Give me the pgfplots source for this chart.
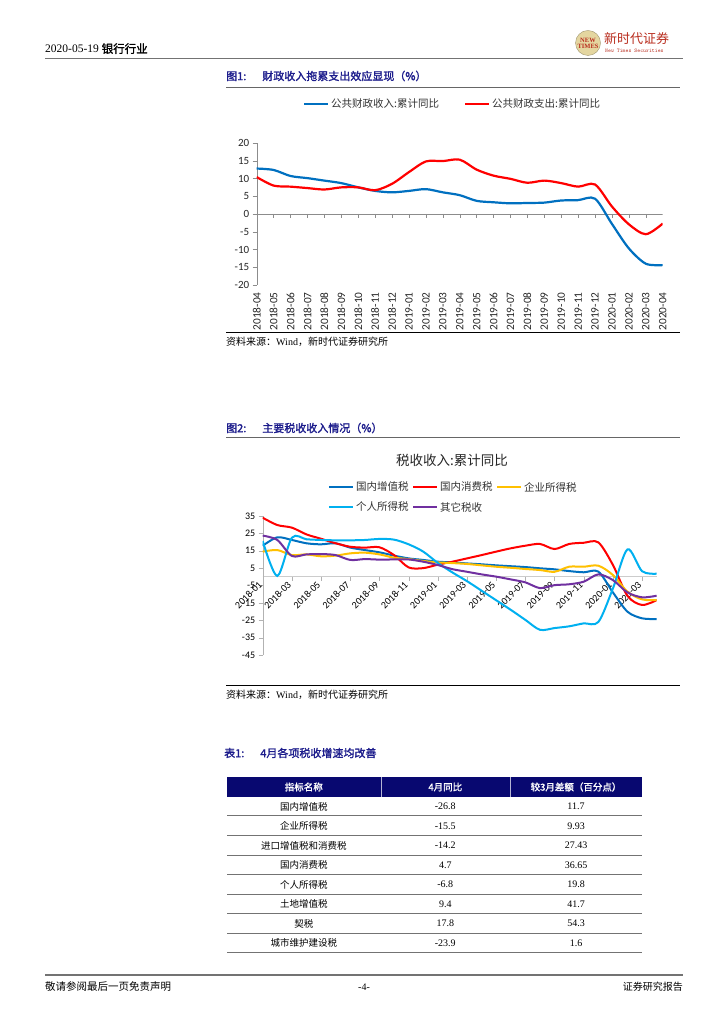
\documentclass[border=0pt]{standalone}
\usepackage{fontspec}
\usepackage{pgfplots}
\usepackage{pgfplotstable}
\pgfplotsset{compat=1.18}
\setmainfont{Liberation Serif}
\newfontfamily\cjk{Noto Sans CJK SC}
\newfontfamily\cjkb[FakeBold=1.5]{Noto Sans CJK SC}
\newfontfamily\calibri{Carlito}

\definecolor{xblue}{HTML}{0070C0}
\definecolor{xred}{HTML}{FF0000}
\definecolor{xyellow}{HTML}{FFC000}
\definecolor{xcyan}{HTML}{00B0F0}
\definecolor{xpurple}{HTML}{7030A0}
\definecolor{navyhead}{RGB}{8,8,112}
\definecolor{capblue}{RGB}{28,28,140}
\definecolor{logored}{RGB}{185,45,30}
\definecolor{logogold}{RGB}{228,214,160}

% fiscal revenue / expenditure, cumulative yoy, 2018-04 .. 2020-04
\pgfplotstableread{
idx rev exp
0 12.8 10.4
1 12.4 8.0
2 10.7 7.7
3 10.1 7.3
4 9.4 6.9
5 8.7 7.5
6 7.5 7.5
7 6.5 6.7
8 6.1 8.5
9 6.5 11.8
10 7.0 14.8
11 6.1 14.9
12 5.3 15.3
13 3.7 12.5
14 3.3 10.8
15 3.0 9.9
16 3.1 8.8
17 3.2 9.4
18 3.8 8.7
19 3.9 7.7
20 4.3 8.3
21 -2.8 2.1
22 -9.7 -2.9
23 -14.0 -5.7
24 -14.4 -2.7
}\fiscal

% tax revenue, cumulative yoy, 2018-01 .. 2020-04
\pgfplotstableread{
idx vat cons corp pers other
0 17.9 34.0 14.5 20.6 23.7
1 22.7 29.8 15.4 0.5 21.2
2 21.2 28.3 12.5 22.5 12.0
3 19.3 24.4 12.9 21.6 12.9
4 18.7 21.9 11.8 21.2 13.1
5 19.3 19.3 12.2 21.0 12.5
6 16.8 17.3 13.5 21.0 9.7
7 15.4 16.8 13.9 21.2 10.2
8 14.1 17.0 12.9 21.8 9.9
9 12.2 12.5 11.0 21.4 10.0
10 10.6 5.4 10.2 18.7 10.0
11 9.7 5.0 9.1 14.5 8.7
12 8.7 7.0 8.3 8.0 6.8
13 8.3 8.7 7.9 2.5 4.4
14 7.7 10.6 7.4 -2.5 2.9
15 7.2 12.5 6.6 -8.0 1.4
16 6.6 14.5 5.8 -13.5 0.1
17 6.1 16.4 5.2 -19.0 -1.5
18 5.6 17.9 4.5 -24.8 -3.2
19 4.9 18.9 3.9 -30.5 -6.5
20 4.3 16.0 2.9 -29.5 -4.8
21 3.3 18.9 5.8 -28.5 -4.3
22 2.6 19.6 5.8 -26.8 -2.8
23 3.0 19.8 6.4 -26.0 1.4
24 -9.0 6.8 1.0 -6.7 -1.9
25 -20.1 -11.0 -8.6 15.8 -9.0
26 -23.9 -16.2 -13.0 3.2 -11.8
27 -24.3 -13.4 -13.4 1.8 -10.9
}\taxes

\begin{document}
\begin{tikzpicture}
\fill[white] (0,0) rectangle (724pt,1024pt);
\useasboundingbox (0,0) rectangle (724pt,1024pt);

% ---- chart 1 (placed in page points, origin at bottom left)
\begin{axis}[
  at={(256.7pt,739pt)}, anchor=south west,
  scale only axis, width=406pt, height=142pt,
  xmin=0, xmax=24, ymin=-20, ymax=20,
  separate axis lines,
  axis x line*=bottom, x axis line style={draw=none},
  xtick={0,...,24}, xtick style={draw=none},
  xticklabels={2018-04,2018-05,2018-06,2018-07,2018-08,2018-09,2018-10,2018-11,2018-12,2019-01,2019-02,2019-03,2019-04,2019-05,2019-06,2019-07,2019-08,2019-09,2019-10,2019-11,2019-12,2020-01,2020-02,2020-03,2020-04},
  x tick label style={rotate=90, anchor=east, font=\calibri\fontsize{11.3}{12}\selectfont, text=black!85},
  axis y line*=left, y axis line style={black!45},
  ytick={-20,-15,...,20}, ytick style={black!45},
  y tick label style={font=\calibri\fontsize{11}{12}\selectfont, text=black!85},
  /pgf/number format/assume math mode=true,
  tick align=outside, major tick length=4pt,
  every axis plot/.append style={line width=2.2pt, smooth},
]
\draw[black!45] (axis cs:0,0) -- (axis cs:24,0);
\pgfplotsinvokeforeach{0,...,24}{\draw[black!45] (axis cs:#1,0) -- ([yshift=-4pt]axis cs:#1,0);}
\addplot[xblue] table[x=idx,y=rev] {\fiscal};
\addplot[xred] table[x=idx,y=exp] {\fiscal};
\end{axis}

% ---- chart 2
\begin{axis}[
  at={(262.7pt,369pt)}, anchor=south west,
  scale only axis, width=394pt, height=139pt,
  xmin=0, xmax=27, ymin=-45, ymax=35,
  separate axis lines,
  axis x line*=middle, x axis line style={black!20, line width=0.8pt},
  hide obscured x ticks=false,
  xtick={0,2,...,26}, xtick style={black!30},
  xticklabels={2018-01,2018-03,2018-05,2018-07,2018-09,2018-11,2019-01,2019-03,2019-05,2019-07,2019-09,2019-11,2020-01,2020-03},
  x tick label style={rotate=45, anchor=east, font=\calibri\fontsize{10}{12}\selectfont, text=black},
  axis y line*=left, y axis line style={black!30},
  ytick={-45,-35,...,35}, ytick style={black!30},
  y tick label style={font=\calibri\fontsize{10}{12}\selectfont, text=black},
  /pgf/number format/assume math mode=true,
  tick align=outside, major tick length=4pt,
  every axis plot/.append style={line width=2pt, smooth},
]
\addplot[xblue] table[x=idx,y=vat] {\taxes};
\addplot[xred] table[x=idx,y=cons] {\taxes};
\addplot[xyellow] table[x=idx,y=corp] {\taxes};
\addplot[xcyan] table[x=idx,y=pers] {\taxes};
\addplot[xpurple] table[x=idx,y=other] {\taxes};
\end{axis}

% ---- page furniture, in pixel-like coordinates measured from the top
\begin{scope}[yshift=1024pt, x=1pt, y=-1pt]
\node[anchor=base west,inner sep=0,font=\fontsize{11.5}{13}\selectfont] at (45,53) {2020-05-19 {\cjkb 银行行业}};
\draw[line width=1.3pt,black!55] (45,58.5) -- (683,58.5);
\fill[logogold] (588,43) circle (12.5);
\draw[logogold!70!black, line width=0.4pt] (588,43) circle (12.5);
\node[font=\bfseries\fontsize{6.5}{6}\selectfont,text=logored,align=center,inner sep=0] at (588,43) {NEW\\TIMES};
\node[anchor=west,inner sep=0,font=\cjk\fontsize{13}{14}\selectfont,text=logored] at (604,39) {新时代证券};
\node[anchor=west,inner sep=0,font=\ttfamily\fontsize{5.5}{6}\selectfont,text=logored] at (605,51) {New Times Securities};

\node[anchor=west,inner sep=0,font=\cjkb\fontsize{11}{13}\selectfont,text=capblue] at (226,76) {图1:\hspace{16pt}财政收入拖累支出效应显现（\%）};
\draw[line width=0.8pt,black!60] (226,87) -- (680,87);

\draw[xblue,line width=2pt] (304,104) -- (328,104);
\node[anchor=west,inner sep=0,font=\cjk\fontsize{10.5}{12}\selectfont,text=black!80] at (331,104) {公共财政收入:累计同比};
\draw[xred,line width=2pt] (465,104) -- (489,104);
\node[anchor=west,inner sep=0,font=\cjk\fontsize{10.5}{12}\selectfont,text=black!80] at (492,104) {公共财政支出:累计同比};

\draw[line width=0.8pt] (226,332) -- (680,332);
\node[anchor=west,inner sep=0,font=\fontsize{10}{12}\selectfont] at (226,342) {{\cjk 资料来源：}Wind{\cjk ，新时代证券研究所}};

\node[anchor=west,inner sep=0,font=\cjkb\fontsize{11}{13}\selectfont,text=capblue] at (226,428) {图2:\hspace{16pt}主要税收收入情况（\%）};
\draw[line width=0.8pt,black!60] (226,437) -- (680,437);

\node[font=\cjk\fontsize{13.5}{15}\selectfont,text=black!85] at (452,460) {税收收入:累计同比};
\draw[xblue,line width=2pt] (329,487) -- (353,487);
\node[anchor=west,inner sep=0,font=\cjk\fontsize{10.5}{12}\selectfont,text=black!80] at (356,487) {国内增值税};
\draw[xred,line width=2pt] (413,487) -- (437,487);
\node[anchor=west,inner sep=0,font=\cjk\fontsize{10.5}{12}\selectfont,text=black!80] at (440,487) {国内消费税};
\draw[xyellow,line width=2pt] (497,487) -- (521,487);
\node[anchor=west,inner sep=0,font=\cjk\fontsize{10.5}{12}\selectfont,text=black!80] at (524,487) {企业所得税};
\draw[xcyan,line width=2pt] (329,507) -- (353,507);
\node[anchor=west,inner sep=0,font=\cjk\fontsize{10.5}{12}\selectfont,text=black!80] at (356,507) {个人所得税};
\draw[xpurple,line width=2pt] (413,507) -- (437,507);
\node[anchor=west,inner sep=0,font=\cjk\fontsize{10.5}{12}\selectfont,text=black!80] at (440,507) {其它税收};

\draw[line width=0.8pt] (226,685) -- (680,685);
\node[anchor=west,inner sep=0,font=\fontsize{10}{12}\selectfont] at (226,695) {{\cjk 资料来源：}Wind{\cjk ，新时代证券研究所}};

\node[anchor=west,inner sep=0,font=\cjkb\fontsize{11}{13}\selectfont,text=capblue] at (224,753) {表1:\hspace{16pt}4月各项税收增速均改善};
\fill[navyhead] (227,777) rectangle (642,797);
\draw[white!70!navyhead] (380.7,777) -- (380.7,797) (510,777) -- (510,797);
\node[font=\cjkb\fontsize{9.5}{11}\selectfont,text=white] at (303.8,787) {指标名称};
\node[font=\cjkb\fontsize{9.5}{11}\selectfont,text=white] at (445.3,787) {4月同比};
\node[font=\cjkb\fontsize{9.5}{11}\selectfont,text=white] at (576,787) {较3月差额（百分点）};
\foreach \yy in {816,836,855.3,875,894.3,914,933.3,952.7}
  \draw[line width=1pt,black!55] (227,\yy) -- (642,\yy);
\foreach \yy/\nm/\va/\vb in {806.4/国内增值税/-26.8/11.7, 826/企业所得税/-15.5/9.93, 845.7/进口增值税和消费税/-14.2/27.43, 865.2/国内消费税/4.7/36.65, 884.7/个人所得税/-6.8/19.8, 904.2/土地增值税/9.4/41.7, 923.7/契税/17.8/54.3, 943/城市维护建设税/-23.9/1.6}{
  \node[font=\cjk\fontsize{9.5}{11}\selectfont] at (303.8,\yy) {\nm};
  \node[font=\fontsize{10}{12}\selectfont] at (445.3,\yy) {\va};
  \node[font=\fontsize{10}{12}\selectfont] at (576,\yy) {\vb};
}

\draw[line width=1.3pt,black!55] (45,975) -- (683,975);
\node[anchor=west,inner sep=0,font=\cjk\fontsize{10.5}{12}\selectfont] at (45,987) {敬请参阅最后一页免责声明};
\node[inner sep=0,font=\fontsize{10}{12}\selectfont] at (364,987) {-4-};
\node[anchor=east,inner sep=0,font=\cjk\fontsize{10}{12}\selectfont] at (683,987) {证券研究报告};
\end{scope}
\end{tikzpicture}
\end{document}
